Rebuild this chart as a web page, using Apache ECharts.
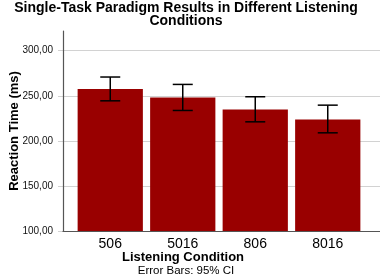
<!DOCTYPE html>
<html>
<head>
<meta charset="utf-8">
<script src="https://cdn.jsdelivr.net/npm/echarts@6/dist/echarts.min.js"></script>
<style>
  html, body { margin: 0; padding: 0; background: #fff; }
  #chart { width: 380px; height: 277px; }
</style>
</head>
<body>
<div id="chart"></div>
<script>
// values
var categories = ['506', '5016', '806', '8016'];
var meanRT = [257.4, 248.1, 234.8, 223.7];
var ciLow = [244.4, 233.7, 221.1, 208.9];
var ciHigh = [270.8, 262.6, 248.9, 239.6];
var yTicks = [100, 150, 200, 250, 300];

var myChart = echarts.init(document.getElementById('chart'));
var font = 'Liberation Sans, Arial, sans-serif';

var errData = categories.map(function (c, i) {
    return [i, ciLow[i], ciHigh[i]];
});

var option = {
    animation: false,
    backgroundColor: '#fff',
    title: [{
        text: 'Single-Task Paradigm Results in Different Listening\nConditions',
        left: 186, top: 2, textAlign: 'center', padding: 0,
        textStyle: { fontFamily: font, fontSize: 14, fontWeight: 'bold', color: '#000', lineHeight: 12.5 }
    }, {
        text: 'Listening Condition',
        left: 183, top: 251, textAlign: 'center', padding: 0,
        textStyle: { fontFamily: font, fontSize: 13, fontWeight: 'bold', color: '#000' }
    }, {
        text: 'Error Bars: 95% CI',
        left: 186, top: 265, textAlign: 'center', padding: 0,
        textStyle: { fontFamily: font, fontSize: 11.5, fontWeight: 'normal', color: '#000' }
    }],
    grid: [
        // frame: axis lines
        { left: 58, right: 0, top: 31, bottom: 46 },
        // gridlines + tick labels
        { left: 58, right: 0, top: 50.7, bottom: 46 },
        // bars
        { left: 74, right: 16, top: 50.7, bottom: 46 }
    ],
    xAxis: [{
        gridIndex: 0, type: 'value', min: 0, max: 1,
        axisLine: { show: true, lineStyle: { color: '#555', width: 1.2 } },
        axisTick: { show: false }, axisLabel: { show: false }, splitLine: { show: false }
    }, {
        gridIndex: 1, type: 'value', min: 0, max: 1, show: false
    }, {
        gridIndex: 2, type: 'category', data: categories,
        axisLine: { show: false }, axisTick: { show: false },
        axisLabel: { fontFamily: font, fontSize: 14, color: '#000', margin: 6 }
    }],
    yAxis: [{
        gridIndex: 0, type: 'value', min: 0, max: 1,
        axisLine: { show: true, lineStyle: { color: '#555', width: 1.2 } },
        axisTick: { show: false }, axisLabel: { show: false }, splitLine: { show: false },
        name: 'Reaction Time (ms)', nameLocation: 'middle', nameGap: 42,
        nameTextStyle: { fontFamily: font, fontSize: 13, fontWeight: 'bold', color: '#000' }
    }, {
        gridIndex: 1, type: 'value', min: yTicks[0], max: yTicks[yTicks.length - 1], interval: 50,
        axisLine: { show: false }, axisTick: { show: false },
        axisLabel: {
            fontFamily: font, fontSize: 10, color: '#111', margin: 5,
            formatter: function (v) { return v.toFixed(2).replace('.', ','); }
        },
        splitLine: { lineStyle: { color: '#d2d2d2', width: 1.2 } }
    }, {
        gridIndex: 2, type: 'value', min: yTicks[0], max: yTicks[yTicks.length - 1], interval: 50, show: false
    }],
    series: [{
        type: 'bar',
        xAxisIndex: 2, yAxisIndex: 2,
        data: meanRT,
        barCategoryGap: '10%',
        itemStyle: { color: '#990000' },
        silent: true
    }, {
        type: 'custom',
        xAxisIndex: 2, yAxisIndex: 2,
        data: errData,
        silent: true,
        z: 10,
        renderItem: function (params, api) {
            var x = api.value(0);
            var lo = api.coord([x, api.value(1)]);
            var hi = api.coord([x, api.value(2)]);
            var hw = 10;
            var st = { stroke: '#000', lineWidth: 1.5 };
            return {
                type: 'group',
                children: [
                    { type: 'line', shape: { x1: lo[0], y1: lo[1], x2: hi[0], y2: hi[1] }, style: st },
                    { type: 'line', shape: { x1: hi[0] - hw, y1: hi[1], x2: hi[0] + hw, y2: hi[1] }, style: st },
                    { type: 'line', shape: { x1: lo[0] - hw, y1: lo[1], x2: lo[0] + hw, y2: lo[1] }, style: st }
                ]
            };
        }
    }]
};
myChart.setOption(option);
</script>
</body>
</html>
